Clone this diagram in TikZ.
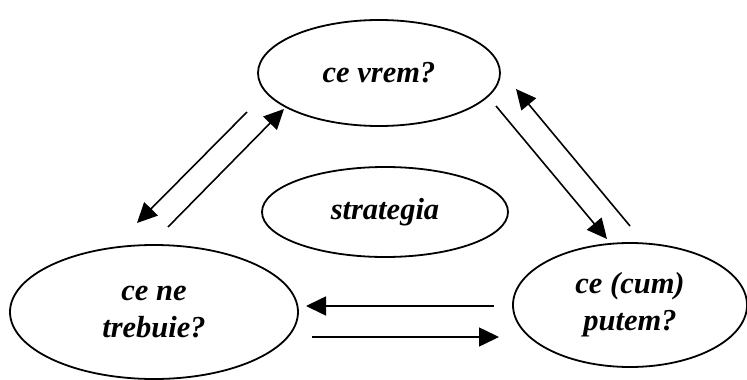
\documentclass[tikz,border=0pt]{standalone}
\usepackage{fontspec}
\setmainfont{Liberation Serif}
\usetikzlibrary{shapes.geometric,arrows.meta}
\begin{document}
\begin{tikzpicture}[x=1pt,y=-1pt,
  oval/.style={draw,ellipse,line width=1.8pt,inner sep=0pt,align=center,
    font=\fontsize{30.5}{37}\selectfont\bfseries\itshape},
  link/.style={line width=1.6pt,-{Triangle[length=20pt,width=19pt]}}]
\useasboundingbox (0,0) rectangle (747,380);
\node[oval,minimum width=242pt,minimum height=106pt] (vrem) at (379,73) {ce vrem?};
\node[oval,minimum width=246pt,minimum height=90pt] (strat) at (385,212) {strategia};
\node[oval,minimum width=288pt,minimum height=134pt] (trebuie) at (154,312) {ce ne\\trebuie?};
\node[oval,minimum width=234pt,minimum height=124pt] (putem) at (630,305) {ce (cum)\\putem?};
\coordinate (a1) at (247,112); \coordinate (a2) at (137,223);
\coordinate (b1) at (168,227); \coordinate (b2) at (284,109);
\coordinate (c1) at (496,106); \coordinate (c2) at (607,239);
\coordinate (d1) at (630,226); \coordinate (d2) at (516,89);
\coordinate (e1) at (494,306); \coordinate (e2) at (306,306);
\coordinate (f1) at (312,337); \coordinate (f2) at (499,337);
\draw[link] (a1) -- (a2);
\draw[link] (b1) -- (b2);
\draw[link] (c1) -- (c2);
\draw[link] (d1) -- (d2);
\draw[link] (e1) -- (e2);
\draw[link] (f1) -- (f2);
\end{tikzpicture}
\end{document}
